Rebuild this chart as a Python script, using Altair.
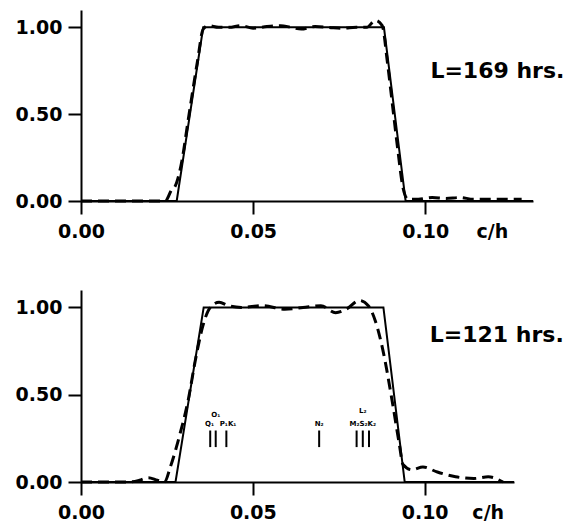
import altair as alt
import pandas as pd

# ---- top panel (L = 169 hrs) ----
top_solid_x = [0.0, 0.0278, 0.0355, 0.0880, 0.0943, 0.1313]
top_solid_y = [0.0, 0.0, 1.0, 1.0, 0.0, 0.0]
top_dash_x = [0.0, 0.0245, 0.0265, 0.0272, 0.0290, 0.0314, 0.0338, 0.0355, 0.0370, 0.0400, 0.0430,
              0.0465, 0.0500, 0.0540, 0.0580, 0.0610, 0.0640, 0.0680, 0.0720, 0.0760,
              0.0800, 0.0830, 0.0855, 0.0875, 0.0890, 0.0905, 0.0920, 0.0935, 0.0950,
              0.0980, 0.1020, 0.1060, 0.1100, 0.1140, 0.1180, 0.1220, 0.1280]
top_dash_y = [0.0, 0.0, 0.07, 0.08, 0.20, 0.50, 0.80, 0.99, 1.01, 1.00, 1.00,
              1.01, 0.995, 1.005, 1.01, 1.00, 0.99, 1.005, 1.00, 0.995,
              1.00, 1.00, 1.04, 1.01, 0.80, 0.55, 0.30, 0.08, 0.01,
              0.01, 0.02, 0.015, 0.02, 0.01, 0.01, 0.01, 0.01]

# ---- bottom panel (L = 121 hrs) ----
bot_solid_x = [0.0, 0.0275, 0.0357, 0.0880, 0.0942, 0.126]
bot_solid_y = [0.0, 0.0, 1.0, 1.0, 0.0, 0.0]
bot_dash_x = [0.0, 0.0138, 0.0170, 0.0196, 0.0222, 0.0243, 0.0260, 0.0286, 0.0312, 0.0333,
              0.0354, 0.0376, 0.0402, 0.0429, 0.0466, 0.0529, 0.0593, 0.0646, 0.0698,
              0.0741, 0.0772, 0.0810, 0.0836, 0.0857, 0.0878, 0.0905, 0.0926, 0.0937,
              0.0963, 0.0995, 0.1037, 0.1090, 0.1143, 0.1185, 0.1228]
bot_dash_y = [0.0, 0.0, 0.01, 0.025, 0.01, 0.0, 0.086, 0.26, 0.47, 0.70,
              0.89, 1.00, 1.03, 1.01, 1.00, 1.01, 0.99, 1.00, 1.01,
              0.97, 0.99, 1.04, 1.01, 0.92, 0.76, 0.47, 0.22, 0.10,
              0.07, 0.086, 0.057, 0.03, 0.02, 0.03, 0.0]

# tidal constituent markers (bottom panel)
tide_x = [0.0376, 0.0392, 0.0423, 0.0693, 0.0802, 0.0820, 0.0838]
tide_lab_x = [0.0374, 0.0392, 0.0428, 0.0693, 0.0820, 0.0820]
tide_lab_y = [0.335, 0.385, 0.335, 0.335, 0.405, 0.335]
tide_lab = ["Q₁", "O₁", "P₁K₁", "N₂", "L₂", "M₂S₂K₂"]

FONT = "DejaVu Sans"
PXU = 3440  # pixels per c/h unit


def panel(sx, sy, dx, dy, xmax, h, label, laby, chx, extra=None):
    w = round(xmax * PXU)
    xs = alt.Scale(domain=[0, xmax], nice=False, zero=False)
    ys = alt.Scale(domain=[0, 1.1], nice=False)
    xax = alt.Axis(values=[0, 0.05, 0.10], format=".2f", title=None, grid=False,
                   labelPadding=8, labelFlush=False)
    yax = alt.Axis(values=[0, 0.5, 1.0], format=".2f", title=None, grid=False,
                   labelPadding=6)
    solid = alt.Chart(pd.DataFrame({"x": sx, "y": sy})).mark_line(
        color="black", strokeWidth=2
    ).encode(x=alt.X("x:Q", scale=xs, axis=xax), y=alt.Y("y:Q", scale=ys, axis=yax))
    dash = alt.Chart(pd.DataFrame({"x": dx, "y": dy})).mark_line(
        color="black", strokeWidth=3, strokeDash=[11, 6], interpolate="monotone"
    ).encode(x="x:Q", y="y:Q")
    lab = alt.Chart(pd.DataFrame({"x": [0.1015], "y": [laby], "t": [label]})).mark_text(
        font=FONT, fontSize=22, fontWeight="bold", align="left", baseline="middle",
        color="black"
    ).encode(x="x:Q", y="y:Q", text="t:N")
    ch = alt.Chart(pd.DataFrame({"x": [chx], "t": ["c/h"]})).mark_text(
        font=FONT, fontSize=19, fontWeight="bold", align="center", baseline="top",
        color="black"
    ).encode(x="x:Q", y=alt.value(h + 22), text="t:N")
    layers = [solid, dash, lab, ch]
    if extra is not None:
        layers += extra
    return alt.layer(*layers).properties(width=w, height=h)


tide_rules = alt.Chart(pd.DataFrame({"x": tide_x})).mark_rule(
    color="black", strokeWidth=2
).encode(x="x:Q", y=alt.datum(0.20), y2=alt.datum(0.295))
tide_text = alt.Chart(pd.DataFrame({"x": tide_lab_x, "y": tide_lab_y, "t": tide_lab})).mark_text(
    font=FONT, fontSize=7, fontWeight="bold", align="center", baseline="middle", color="black"
).encode(x="x:Q", y="y:Q", text="t:N")

top = panel(top_solid_x, top_solid_y, top_dash_x, top_dash_y, 0.1313, 191,
            "L=169 hrs.", 0.75, 0.1195)
bot = panel(bot_solid_x, bot_solid_y, bot_dash_x, bot_dash_y, 0.126, 192,
            "L=121 hrs.", 0.84, 0.1185, extra=[tide_rules, tide_text])

chart = alt.vconcat(top, bot, spacing=89, bounds="flush").properties(
    padding={"left": 7, "top": 2, "right": 0, "bottom": 0}
).configure_view(stroke=None).configure_axis(
    domainColor="black", domainWidth=2, tickColor="black", tickWidth=2, tickSize=13,
    labelFont=FONT, labelFontSize=19, labelFontWeight="bold", labelColor="black"
)

chart.save("out.html", embed_options={"renderer": "svg", "actions": False})
